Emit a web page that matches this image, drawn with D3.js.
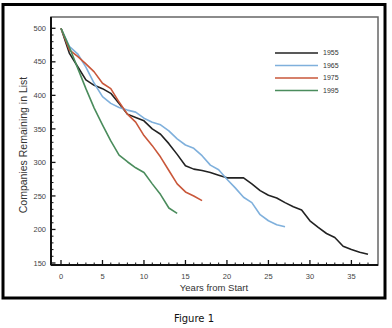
<!DOCTYPE html>
<html><head><meta charset="utf-8">
<script src="https://cdn.jsdelivr.net/npm/d3@7"></script>
<style>body{margin:0;background:#fff;}svg{display:block;}</style>
</head><body>
<script>
const series = ["1955","1965","1975","1995"];
const colors = ["#222222","#7fb0dc","#c9573a","#4a8c5c"];
const v1955 = [500,463,443,423,415,410,403,388,372,367,362,350,342,328,312,295,290,288,285,281,277,277,277,268,258,251,247,240,234,229,213,203,194,188,175,170,166,163];
const v1965 = [500,473,462,442,418,398,388,382,378,375,366,360,356,347,335,326,321,310,296,289,275,262,248,240,222,213,207,204];
const v1975 = [500,468,458,447,435,418,410,390,372,360,340,325,308,288,268,256,250,243];
const v1995 = [500,472,441,410,381,356,332,311,301,292,285,268,252,232,224];
const values = [v1955,v1965,v1975,v1995];
const xTicks = [0,5,10,15,20,25,30,35];
const yTicks = [150,200,250,300,350,400,450,500];

const W=392,H=328;
const svg=d3.select("body").append("svg").attr("width",W).attr("height",H);
svg.append("rect").attr("width",W).attr("height",H).attr("fill","#fff");
// outer border
svg.append("rect").attr("x",3).attr("y",4.5).attr("width",382).attr("height",293.5)
  .attr("fill","none").attr("stroke","#000").attr("stroke-width",3);

const L=51,R=378,T=17,B=265;
const x=d3.scaleLinear().domain([0,37]).range([61,368]);
const y=d3.scaleLinear().domain([150,500]).range([263,28.3]);

// frame
svg.append("rect").attr("x",L).attr("y",T).attr("width",R-L).attr("height",B-T)
  .attr("fill","none").attr("stroke","#666").attr("stroke-width",1.5);
svg.append("line").attr("x1",L).attr("x2",L).attr("y1",T).attr("y2",B).attr("stroke","#111").attr("stroke-width",2);
svg.append("line").attr("x1",L).attr("x2",R).attr("y1",B).attr("y2",B).attr("stroke","#111").attr("stroke-width",2);

// y ticks
const gy=svg.append("g");
d3.range(150,501,10).forEach(v=>{
  const major=v%50===0;
  gy.append("line").attr("x1",L).attr("x2",L+(major?4.5:2.5)).attr("y1",y(v)).attr("y2",y(v))
    .attr("stroke","#111").attr("stroke-width",major?1.3:1);
});
gy.selectAll("text").data(yTicks).join("text")
  .attr("x",46).attr("y",d=>y(d)).attr("dy","0.35em").attr("text-anchor","end")
  .attr("font-family","Liberation Sans, Arial, sans-serif").attr("font-size",7.5).attr("fill","#444")
  .text(d=>d);
// x ticks
const gx=svg.append("g");
d3.range(0,38,1).forEach(v=>{
  const major=v%5===0;
  gx.append("line").attr("x1",x(v)).attr("x2",x(v)).attr("y1",B).attr("y2",B-(major?5:2.5))
    .attr("stroke","#111").attr("stroke-width",major?1.3:1);
});
gx.selectAll("text").data(xTicks).join("text")
  .attr("x",d=>x(d)).attr("y",279).attr("text-anchor","middle")
  .attr("font-family","Liberation Sans, Arial, sans-serif").attr("font-size",7.5).attr("fill","#444")
  .text(d=>d);

// axis titles
svg.append("text").attr("x",214).attr("y",291).attr("text-anchor","middle")
  .attr("font-family","Liberation Sans, Arial, sans-serif").attr("font-size",9.5).attr("fill","#333")
  .text("Years from Start");
svg.append("text").attr("transform","translate(26.5,145) rotate(-90)").attr("text-anchor","middle")
  .attr("font-family","Liberation Sans, Arial, sans-serif").attr("font-size",10.5).attr("fill","#333")
  .text("Companies Remaining in List");

// lines
const line=d3.line().x((d,i)=>x(i)).y(d=>y(d));
values.forEach((vals,i)=>{
  svg.append("path").datum(vals).attr("d",line).attr("fill","none")
    .attr("stroke",colors[i]).attr("stroke-width",1.6).attr("stroke-linejoin","round");
});

// legend
series.forEach((s,i)=>{
  const ly=53+i*12.5;
  svg.append("line").attr("x1",275).attr("x2",318).attr("y1",ly).attr("y2",ly)
    .attr("stroke",colors[i]).attr("stroke-width",1.6);
  svg.append("text").attr("x",323).attr("y",ly).attr("dy","0.35em")
    .attr("font-family","Liberation Sans, Arial, sans-serif").attr("font-size",7).attr("fill","#333")
    .text(s);
});

// caption
svg.append("text").attr("x",194).attr("y",322).attr("text-anchor","middle")
  .attr("font-family","DejaVu Sans, sans-serif").attr("font-size",10).attr("fill","#111")
  .text("Figure 1");
</script>
</body></html>
